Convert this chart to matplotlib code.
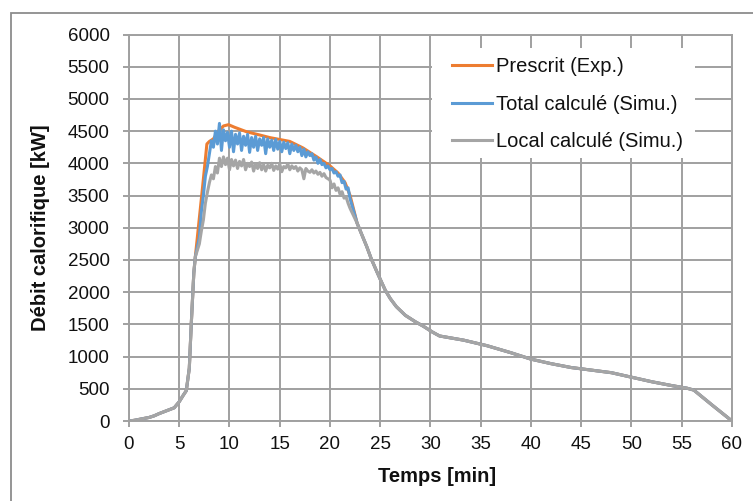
import numpy as np
import matplotlib
matplotlib.use("Agg")
import matplotlib.pyplot as plt
from matplotlib.patches import Rectangle

plt.rcParams['font.family'] = ['Liberation Sans', 'DejaVu Sans']

# ---- data -------------------------------------------------------------
# common growth phase (min, kW)
rise_time = [0, 0.5, 1.0, 1.5, 2.0, 2.5, 3.0, 3.5, 4.0, 4.5, 5.0, 5.4, 5.7, 6.0, 6.2, 6.45, 6.6]
rise_hrr = [0, 10, 25, 40, 55, 80, 115, 145, 175, 205, 300, 400, 470, 820, 1520, 2300, 2550]

# common decay phase (min, kW)
tail_time = [22.7, 23.2, 23.65, 24.1, 24.6, 25.0, 25.5, 26.0, 26.6, 27.5, 28.5, 29.3,
             30.2, 30.9, 32.0, 33.3, 35.6, 38.0, 40.0, 42.0, 44.0, 46.0, 48.0,
             50.0, 52.0, 54.0, 55.5, 56.2, 58.0, 60.0]
tail_hrr = [3070, 2880, 2710, 2520, 2340, 2200, 2030, 1900, 1775, 1640, 1540, 1470,
            1380, 1320, 1290, 1255, 1170, 1060, 960, 890, 830, 790, 750,
            680, 610, 550, 510, 480, 250, 0]

# prescribed HRR (experiment), fully-developed phase
prescrit_time = [6.9, 7.3, 7.75, 8.0, 8.4, 8.9, 9.4, 9.9, 10.5, 11.7, 13.0, 14.0, 15.0,
                 16.0, 17.3, 18.7, 20.0, 20.8, 21.5, 22.0]
prescrit_hrr = [3000, 3600, 4300, 4340, 4380, 4500, 4580, 4600, 4560, 4490, 4440, 4400,
                4370, 4340, 4240, 4100, 3960, 3850, 3700, 3500]

# simulation output sampled every 0.2 min between 7.0 and 22.0 min
sim_time = np.linspace(7.0, 22.0, 76)
total_hrr = [2850, 3250, 3500, 3800, 3950, 4150, 4350, 4250, 4500, 4300,
             4620, 4200, 4520, 4350, 4480, 4250, 4500, 4180, 4450, 4300,
             4470, 4200, 4420, 4280, 4450, 4170, 4400, 4250, 4420, 4200,
             4380, 4280, 4400, 4150, 4380, 4250, 4360, 4200, 4370, 4220,
             4340, 4180, 4330, 4230, 4320, 4150, 4300, 4200, 4280, 4180,
             4250, 4120, 4220, 4100, 4180, 4120, 4150, 4050, 4100, 4000,
             4060, 3980, 4000, 3930, 3960, 3900, 3920, 3850, 3870, 3800,
             3820, 3700, 3720, 3600, 3620, 3450]
local_hrr = [2750, 2950, 3120, 3380, 3550, 3700, 3820, 3760, 3950, 3850,
             4080, 3950, 4100, 3980, 4080, 3900, 4060, 3960, 4050, 3920,
             4030, 3960, 4060, 3900, 4000, 3950, 4020, 3880, 3990, 3920,
             4010, 3900, 3980, 3880, 3970, 3930, 4000, 3890, 3960, 3910,
             3990, 3870, 3950, 3930, 3990, 3900, 3960, 3920, 3950, 3880,
             3930, 3900, 3760, 3920, 3880, 3860, 3900, 3850, 3880, 3830,
             3860, 3800, 3840, 3780, 3760, 3740, 3620, 3680, 3580, 3620,
             3520, 3560, 3460, 3480, 3380, 3300]

labels = ["Prescrit (Exp.)", "Total calculé (Simu.)", "Local calculé (Simu.)"]
colors = ["#ED7D31", "#5B9BD5", "#A5A5A5"]

x_ticks = list(range(0, 61, 5))
y_ticks = list(range(0, 6001, 500))

# ---- assemble full curves --------------------------------------------
t_pres = rise_time + prescrit_time + tail_time
q_pres = rise_hrr + prescrit_hrr + tail_hrr
t_tot = rise_time + list(sim_time) + tail_time
q_tot = rise_hrr + total_hrr + tail_hrr
t_loc = rise_time + list(sim_time) + tail_time
q_loc = rise_hrr + local_hrr + tail_hrr

# ---- figure -----------------------------------------------------------
W, H = 753, 501
fig = plt.figure(figsize=(W / 100, H / 100), dpi=100)
ax = fig.add_axes([129 / W, 1 - 421 / H, (732 - 129) / W, (421 - 34.5) / H])

grid_c = "#a0a0a0"
text_c = "#111111"

lines = []
for t, q, c, lab in zip([t_pres, t_tot, t_loc], [q_pres, q_tot, q_loc], colors, labels):
    ln, = ax.plot(t, q, color=c, lw=2.2, label=lab, solid_joinstyle="round")
    lines.append(ln)

ax.set_xlim(0, 60)
ax.set_ylim(0, 6000)
ax.set_xticks(x_ticks)
ax.set_yticks(y_ticks)
ax.set_axisbelow(True)
ax.grid(True, color=grid_c, lw=1.4)
for s in ax.spines.values():
    s.set_color(grid_c)
    s.set_linewidth(1.4)
ax.tick_params(axis="both", direction="out", length=4.5, width=1.4, color=grid_c,
               labelsize=13.5, labelcolor=text_c)
ax.tick_params(axis="y", pad=9.5)
ax.tick_params(axis="x", pad=6)

ax.set_xlabel("Temps [min]", fontsize=14.5, fontweight="bold", color=text_c)
ax.set_ylabel("Débit calorifique [kW]", fontsize=14.5, fontweight="bold", color=text_c)
ax.xaxis.set_label_coords((437.5 - 129) / 603, -(467 - 421) / 386.5)
ax.yaxis.set_label_coords(-(129 - 50) / 603, 0.5)

# white legend area hiding the grid
ax.add_patch(Rectangle(((432 - 129) / 603, (421 - 158) / 386.5),
                       (695 - 432) / 603, (158 - 48) / 386.5,
                       transform=ax.transAxes, facecolor="white", edgecolor="none",
                       zorder=2.5))
leg = ax.legend(handles=lines, loc="upper left", frameon=False, fontsize=14.5,
                borderpad=0, borderaxespad=0, handlelength=2.0, handletextpad=0.2,
                labelspacing=0.9,
                bbox_to_anchor=(452 / W, 1 - 57.5 / H), bbox_transform=fig.transFigure)
for txt in leg.get_texts():
    txt.set_color(text_c)
leg.set_zorder(5)

# outer chart border
fig.patches.append(Rectangle((11 / W, -0.1), 2.0, 1 - 13 / H + 0.1,
                             transform=fig.transFigure, facecolor="none",
                             edgecolor="#8c8c8c", lw=1.3))

fig.savefig("out.png", dpi=100)
